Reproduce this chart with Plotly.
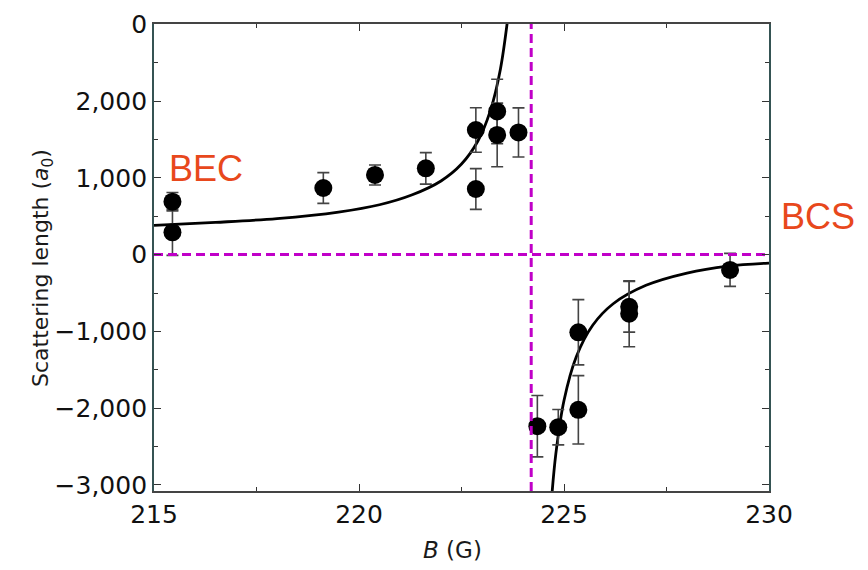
import plotly.graph_objects as go

# Measured data points (B in G, scattering length in a0)
B_data = [215.45, 215.45, 219.13, 220.39, 221.63, 222.85, 222.85, 223.37, 223.37, 223.89,
          224.35, 224.86, 225.35, 225.35, 226.59, 226.59, 229.05]
a_data = [690, 290, 868, 1038, 1124, 1624, 855, 1866, 1559, 1592,
          -2236, -2249, -1012, -2022, -680, -770, -199]
a_err = [120, 300, 200, 130, 205, 290, 265, 420, 415, 320,
         400, 230, 425, 445, 330, 430, 215]

# Fit curve (BEC side and BCS side)
B_fit_bec = [215.0, 216.5, 218.0, 219.5, 220.5, 221.3, 222.0, 222.5, 222.9, 223.2, 223.45, 223.7]
a_fit_bec = [380, 420, 470, 555, 650, 780, 960, 1180, 1480, 1870, 2420, 3400]
B_fit_bcs = [224.68, 224.8, 225.0, 225.3, 225.7, 226.2, 227.0, 228.0, 229.0, 230.0]
a_fit_bcs = [-3300, -2600, -1900, -1330, -920, -640, -400, -240, -150, -110]

# Resonance position and zero line
B_res = 224.2
x_range = [215, 230]
y_range = [-3080, 3005]

y_tickvals = [-3000, -2000, -1000, 0, 1000, 2000, 3000]
y_ticktext = ["\u22123,000", "\u22122,000", "\u22121,000", "0", "1,000", "2,000", "0"]
x_tickvals = [215, 220, 225, 230]
x_ticktext = ["215", "220", "225", "230"]

fig = go.Figure()

fig.add_trace(go.Scatter(x=B_fit_bec, y=a_fit_bec, mode="lines", line=dict(color="black", width=2.8, shape="spline"), showlegend=False))
fig.add_trace(go.Scatter(x=B_fit_bcs, y=a_fit_bcs, mode="lines", line=dict(color="black", width=2.8, shape="spline"), showlegend=False))

fig.add_trace(go.Scatter(
    x=B_data, y=a_data, mode="markers",
    marker=dict(color="black", size=18),
    error_y=dict(type="data", array=a_err, color="#444444", thickness=1.6, width=6),
    showlegend=False, cliponaxis=False))

magenta = "#c000c8"
fig.add_trace(go.Scatter(x=x_range, y=[0, 0], mode="lines",
                         line=dict(color=magenta, width=3, dash="9px,5px"), showlegend=False))
fig.add_trace(go.Scatter(x=[B_res, B_res], y=y_range, mode="lines",
                         line=dict(color=magenta, width=3, dash="9px,5px"), showlegend=False))

axis_font = dict(family="DejaVu Sans", size=25, color="#111111")

# page offset of 8px (default body margin); plot area on page: x 154..769, y 24..491
def ann(text, px, py, size, family, color, angle=0):
    return dict(text=text, xref="paper", yref="paper",
                x=(px - 154) / 615, y=(491 - py) / 467,
                xanchor="center", yanchor="middle", textangle=angle, showarrow=False,
                font=dict(family=family, size=size, color=color))

fig.update_layout(
    width=860, height=562,
    margin=dict(l=146, r=99, t=16, b=79, autoexpand=False),
    paper_bgcolor="white", plot_bgcolor="white",
    xaxis=dict(range=x_range, tickvals=x_tickvals, ticktext=x_ticktext, automargin=False,
               ticks="inside", ticklen=7, tickwidth=1.3, tickcolor="#333",
               showline=True, linecolor="#444", linewidth=1.8, mirror="allticks",
               showgrid=False, zeroline=False, tickfont=axis_font,
               minor=dict(dtick=2.5, tick0=215, ticks="inside", ticklen=4, tickcolor="#333")),
    yaxis=dict(range=y_range, tickvals=y_tickvals, ticktext=y_ticktext, automargin=False,
               ticks="inside", ticklen=7, tickwidth=1.3, tickcolor="#333",
               showline=True, linecolor="#355353", linewidth=1.8, mirror="allticks",
               showgrid=False, zeroline=False, tickfont=axis_font,
               minor=dict(dtick=500, tick0=0, ticks="inside", ticklen=4, tickcolor="#333")),
    annotations=[
        ann("BEC", 206, 168, 36, "Liberation Sans", "#e8481c"),
        ann("BCS", 818, 216, 36, "Liberation Sans", "#e8481c"),
        ann("Scattering length (<i>a</i><sub>0</sub>)", 42, 268, 22, "DejaVu Sans", "#1a1a1a", -90),
        ann("<i>B</i> (G)", 452, 550, 23, "DejaVu Sans", "#1a1a1a"),
    ],
)

fig.write_html("out.html")
